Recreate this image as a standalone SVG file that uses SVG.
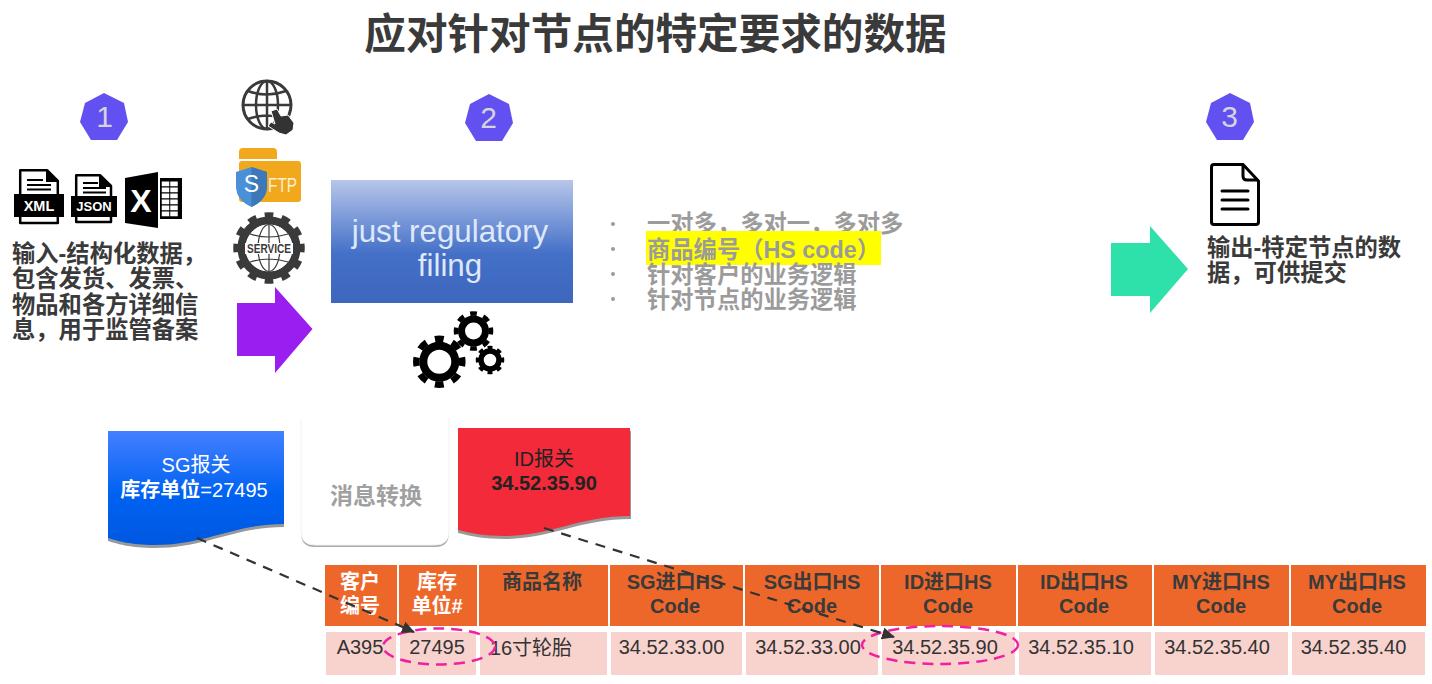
<svg xmlns="http://www.w3.org/2000/svg" width="1432" height="684" viewBox="0 0 1432 684">
<style>
text{font-family:"Liberation Sans","Noto Sans CJK SC",sans-serif}
.b{font-weight:700}
.c{text-anchor:middle}
.t{fill:#3a3a3a;font-weight:700;font-size:23.300px}
.g{fill:#9b9b9b;font-weight:700;font-size:23.300px}
.hd{fill:#ee672a}
.rw{fill:#f8d2cd}
.ht{fill:#3a3a3a;font-weight:700;font-size:20px;text-anchor:middle}
.hw{fill:#fff;font-weight:700;font-size:20px;text-anchor:middle}
.rt{fill:#333;font-size:20px;text-anchor:middle}
.hep{fill:#6350f0}
.num{fill:#d4d4dc;font-size:30px;text-anchor:middle}
.ell{fill:none;stroke:#f020a0;stroke-width:2.500;stroke-dasharray:11 7}
.con{fill:none;stroke:#333;stroke-width:2.200;stroke-dasharray:10 8}
.blk{fill:#000}
.gr{fill:none;stroke:#000}
.tooth{fill:none;stroke:#000;stroke-dasharray:5 5;stroke-dashoffset:2.500}
.gl{fill:none;stroke:#3a3a3a}
</style>
<defs>
<linearGradient id="gBlue" x1="0" y1="0" x2="0" y2="1"><stop offset="0" stop-color="#b7c6ea"/><stop offset="0.6" stop-color="#4470c8"/><stop offset="1" stop-color="#3d66bd"/></linearGradient>
<linearGradient id="gSg" x1="0" y1="0" x2="0" y2="1"><stop offset="0" stop-color="#4480ff"/><stop offset="0.55" stop-color="#0062f2"/><stop offset="1" stop-color="#0058e0"/></linearGradient>
<marker id="arr" markerUnits="userSpaceOnUse" markerWidth="14" markerHeight="14" refX="12" refY="6" orient="auto"><path d="M0 0L13 6L0 12Z" fill="#333"/></marker>
</defs>
<rect width="1432" height="684" fill="#fff"/>
<text id="title" x="655.500" y="49" class="c b" font-size="41.600" fill="#3a3a3a">应对针对节点的特定要求的数据</text>

<g id="badge1"><polygon class="hep" points="104,93 124,103 128,122 117,140 91,140 80,122 85,103"/><text class="num" x="104.500" y="127">1</text></g>
<g id="badge2"><polygon class="hep" points="489,94 509,104 513,123 502,141 476,141 465,123 470,104"/><text class="num" x="488.500" y="128">2</text></g>
<g id="badge3"><polygon class="hep" points="1230,93 1250,103 1254,122 1243,140 1217,140 1206,122 1211,103"/><text class="num" x="1229.500" y="127">3</text></g>

<g id="icon-xml">
<path d="M20.200 170.200H47L57.800 181V223H20.200Z" fill="#fff" stroke="#000" stroke-width="2.500" stroke-linejoin="round"/>
<path d="M46 170L58 182H46Z" class="blk"/>
<path d="M27 180H43M27 185H51M27 189.500H51" stroke="#000" stroke-width="2"/>
<rect x="14" y="194" width="50" height="23" class="blk"/>
<text x="39" y="211" class="c b" font-size="14.500" fill="#fff">XML</text>
</g>
<g id="icon-json">
<path d="M76.200 175.200H100L111 186V222H76.200Z" fill="#fff" stroke="#000" stroke-width="2.500" stroke-linejoin="round"/>
<path d="M99 175L112 187H99Z" class="blk"/>
<path d="M83 183H98M83 188H106M83 192.500H106" stroke="#000" stroke-width="2"/>
<rect x="71" y="196" width="46" height="21" class="blk"/>
<text x="94" y="211" class="c b" font-size="13" fill="#fff">JSON</text>
</g>
<g id="icon-excel">
<polygon class="blk" points="125,178 158,172 158,228 125,223"/>
<text x="141" y="212" class="c b" font-size="32" fill="#fff">X</text>
<rect x="160" y="178" width="22" height="41" class="blk"/>
<path d="M165.500 181.500V217M174 181.500V217" fill="none" stroke="#fff" stroke-width="7.500" stroke-dasharray="4.800 1.200"/>
</g>

<g id="icon-web">
<circle cx="267" cy="105" r="24" fill="#fff" stroke="#3a3a3a" stroke-width="3"/>
<ellipse cx="267" cy="105" rx="11" ry="24" class="gl" stroke-width="2.500"/>
<path d="M267 81V129M243 105H291M248 91Q267 98 286 91M248 119Q267 112 286 119" class="gl" stroke-width="2.500"/>
<path d="M271 111L277 109L281 116L288 115L294 123L293 130L286 135L279 133L268 126L271 122L275 124Z" fill="#333" stroke="#fff" stroke-width="1"/>
</g>
<g id="icon-sftp">
<path d="M239 159V152Q239 148 243 148H273Q277 148 277 152V159Z" fill="#f2a81d"/>
<rect x="239" y="161" width="62" height="41" rx="3" fill="#f2a81d"/>
<path d="M251.500 167L267 172V186Q267 200 251.500 207Q236 200 236 186V172Z" fill="#4a90d9"/>
<path d="M251.500 167L267 172V186Q267 200 251.500 207Z" fill="#3d78b8"/>
<text x="251.500" y="192" class="c" font-size="23" fill="#fff">S</text>
<text x="268" y="192" font-size="19.500" fill="#fbeed2" textLength="29" lengthAdjust="spacingAndGlyphs">FTP</text>
</g>
<g id="icon-service">
<circle cx="269" cy="248" r="32" class="tooth" style="stroke:#3a3a3a" stroke-width="7.500" pathLength="120"/>
<circle cx="269" cy="248" r="27.500" fill="none" stroke="#3a3a3a" stroke-width="8"/>
<circle cx="269" cy="248" r="23.500" fill="#fff"/>
<ellipse cx="269" cy="248" rx="11" ry="23.500" class="gl" stroke-width="1.200"/>
<path d="M269 224.500V271.500M250 234Q269 240 288 234M250 262Q269 256 288 262" class="gl" stroke-width="1.200"/>
<rect x="245" y="243" width="48" height="11" fill="#fff"/>
<text x="269" y="253" class="c b" font-size="12" fill="#3a3a3a" textLength="44" lengthAdjust="spacingAndGlyphs">SERVICE</text>
</g>
<g id="input-text">
<text class="t" x="12" y="262">输入-结构化数据&#xFF0C;</text>
<text class="t" x="12" y="287">包含发货、发票、</text>
<text class="t" x="12" y="313">物品和各方详细信</text>
<text class="t" x="12" y="338">息&#xFF0C;用于监管备案</text>
</g>
<g id="arrow-purple"><polygon points="237,303 275,303 275,287 312.500,329 275,373 275,356 237,356" fill="#9a1ef0"/></g>

<g id="filing"><rect x="331" y="180" width="242" height="123" fill="url(#gBlue)"/>
<text x="450" y="242" class="c" font-size="31.300" fill="#dfe8f8">just regulatory</text>
<text x="450" y="276" class="c" font-size="31.300" fill="#dfe8f8">filing</text></g>
<g id="gears">
<circle cx="439.300" cy="361.700" r="16" class="gr" stroke-width="8"/>
<circle cx="439.300" cy="361.700" r="23" class="tooth" stroke-width="6.500" pathLength="80"/>
<circle cx="473.500" cy="331" r="12" class="gr" stroke-width="7"/>
<circle cx="473.500" cy="331" r="17.500" class="tooth" stroke-width="4.500" pathLength="80"/>
<circle cx="490" cy="360" r="9" class="gr" stroke-width="5.500"/>
<circle cx="490" cy="360" r="12.500" class="tooth" stroke-width="3.500" pathLength="80"/>
</g>
<g id="bullets">
<circle cx="613" cy="224" r="2" fill="#9b9b9b"/><circle cx="613" cy="249" r="2" fill="#9b9b9b"/><circle cx="613" cy="274" r="2" fill="#9b9b9b"/><circle cx="613" cy="299" r="2" fill="#9b9b9b"/>
<text class="g" x="647" y="232">一对多&#xFF0C;多对一&#xFF0C;多对多</text>
<rect x="646" y="231" width="235" height="34" fill="#ff0"/>
<text class="g" x="647" y="258">商品编号&#xFF08;HS code&#xFF09;</text>
<text class="g" x="647" y="283">针对客户的业务逻辑</text>
<text class="g" x="647" y="308">针对节点的业务逻辑</text>
</g>

<g id="icon-output">
<path d="M1214 164.500H1243L1258.500 181V222Q1258.500 224.500 1256 224.500H1214Q1211.500 224.500 1211.500 222V167Q1211.500 164.500 1214 164.500Z" fill="#fff" stroke="#000" stroke-width="3"/>
<path d="M1243 165V176Q1243 180 1247 180H1258" fill="none" stroke="#000" stroke-width="3"/>
<path d="M1222 191H1248M1222 200H1248M1222 209H1248" stroke="#000" stroke-width="3" stroke-linecap="round"/>
</g>
<g id="arrow-green"><polygon points="1111,243 1150,243 1150,226 1188,269 1150,313 1150,296 1111,296" fill="#2ee0aa"/></g>
<g id="output-text">
<text class="t" x="1207" y="256">输出-特定节点的数</text>
<text class="t" x="1207" y="281">据&#xFF0C;可供提交</text>
</g>

<g id="doc-sg">
<path d="M108 541V434H284V527C235 527 205 548 155 548C130 548 118 544 108 541Z" fill="#999"/>
<path d="M108 538V431H284V524C235 524 205 545 155 545C130 545 118 541 108 538Z" fill="url(#gSg)"/>
<text x="196" y="472" class="c" font-size="20" fill="#fff">SG报关</text>
<text x="194" y="497" class="c" font-size="20" fill="#fff"><tspan class="b">库存单位</tspan>=27495</text>
</g>
<g id="msg-convert">
<path d="M301 500V533Q301 547 315 547H435Q449 547 449 533V500Z" fill="#aaa"/>
<path d="M301 418V531Q301 545 315 545H435Q449 545 449 531V418" fill="#fff" stroke="#f2f2f2"/>
<text x="376" y="504" class="c b" font-size="23" fill="#a0a0a0">消息转换</text>
</g>
<g id="doc-id">
<path d="M458 533V431H631V519C580 519 550 539 505 539C485 539 470 536 458 533Z" fill="#999"/>
<path d="M458 530V428H630V516C580 516 550 536 505 536C485 536 470 533 458 530Z" fill="#f22a3a"/>
<text x="544" y="466" class="c" font-size="20" fill="#222">ID报关</text>
<text x="544" y="490" class="c b" font-size="20" fill="#222">34.52.35.90</text>
</g>

<g id="table">
<g id="table-header">
<rect class="hd" x="325" y="565" width="72" height="61"/><rect class="hd" x="399" y="565" width="78" height="61"/><rect class="hd" x="479" y="565" width="129" height="61"/><rect class="hd" x="610" y="565" width="133" height="61"/><rect class="hd" x="745" y="565" width="134" height="61"/><rect class="hd" x="881" y="565" width="135" height="61"/><rect class="hd" x="1018" y="565" width="134" height="61"/><rect class="hd" x="1154" y="565" width="135" height="61"/><rect class="hd" x="1291" y="565" width="135" height="61"/>
<text class="hw" x="360" y="589">客户</text><text class="hw" x="360" y="613">编号</text>
<text class="hw" x="437" y="589">库存</text><text class="hw" x="437" y="613">单位#</text>
<text class="ht" x="542" y="589">商品名称</text>
<text class="ht" x="675" y="589">SG进口HS</text><text class="ht" x="675" y="613">Code</text>
<text class="ht" x="812" y="589">SG出口HS</text><text class="ht" x="812" y="613">Code</text>
<text class="ht" x="948" y="589">ID进口HS</text><text class="ht" x="948" y="613">Code</text>
<text class="ht" x="1084" y="589">ID出口HS</text><text class="ht" x="1084" y="613">Code</text>
<text class="ht" x="1221" y="589">MY进口HS</text><text class="ht" x="1221" y="613">Code</text>
<text class="ht" x="1357" y="589">MY出口HS</text><text class="ht" x="1357" y="613">Code</text>
</g>
<g id="table-row">
<rect class="rw" x="326" y="632" width="70" height="43"/><rect class="rw" x="400" y="632" width="76" height="43"/><rect class="rw" x="480" y="632" width="127" height="43"/><rect class="rw" x="611" y="632" width="131" height="43"/><rect class="rw" x="746" y="632" width="132" height="43"/><rect class="rw" x="882" y="632" width="133" height="43"/><rect class="rw" x="1019" y="632" width="132" height="43"/><rect class="rw" x="1155" y="632" width="133" height="43"/><rect class="rw" x="1292" y="632" width="133" height="43"/>
<text class="rt" x="360" y="654">A395</text><text class="rt" x="437" y="654">27495</text><text class="rt" x="531" y="655">16寸轮胎</text><text class="rt" x="671.500" y="654">34.52.33.00</text><text class="rt" x="808" y="654">34.52.33.00</text><text class="rt" x="945" y="654">34.52.35.90</text><text class="rt" x="1081" y="654">34.52.35.10</text><text class="rt" x="1217" y="654">34.52.35.40</text><text class="rt" x="1353.500" y="654">34.52.35.40</text>
</g>
</g>
<g id="highlights">
<ellipse class="ell" cx="439" cy="646.500" rx="56" ry="18"/>
<ellipse class="ell" cx="940" cy="645" rx="78" ry="19"/>
</g>
<g id="connectors">
<line class="con" x1="197" y1="538" x2="414" y2="632" marker-end="url(#arr)"/>
<line class="con" x1="544" y1="528" x2="894" y2="637" marker-end="url(#arr)"/>
</g>
</svg>
